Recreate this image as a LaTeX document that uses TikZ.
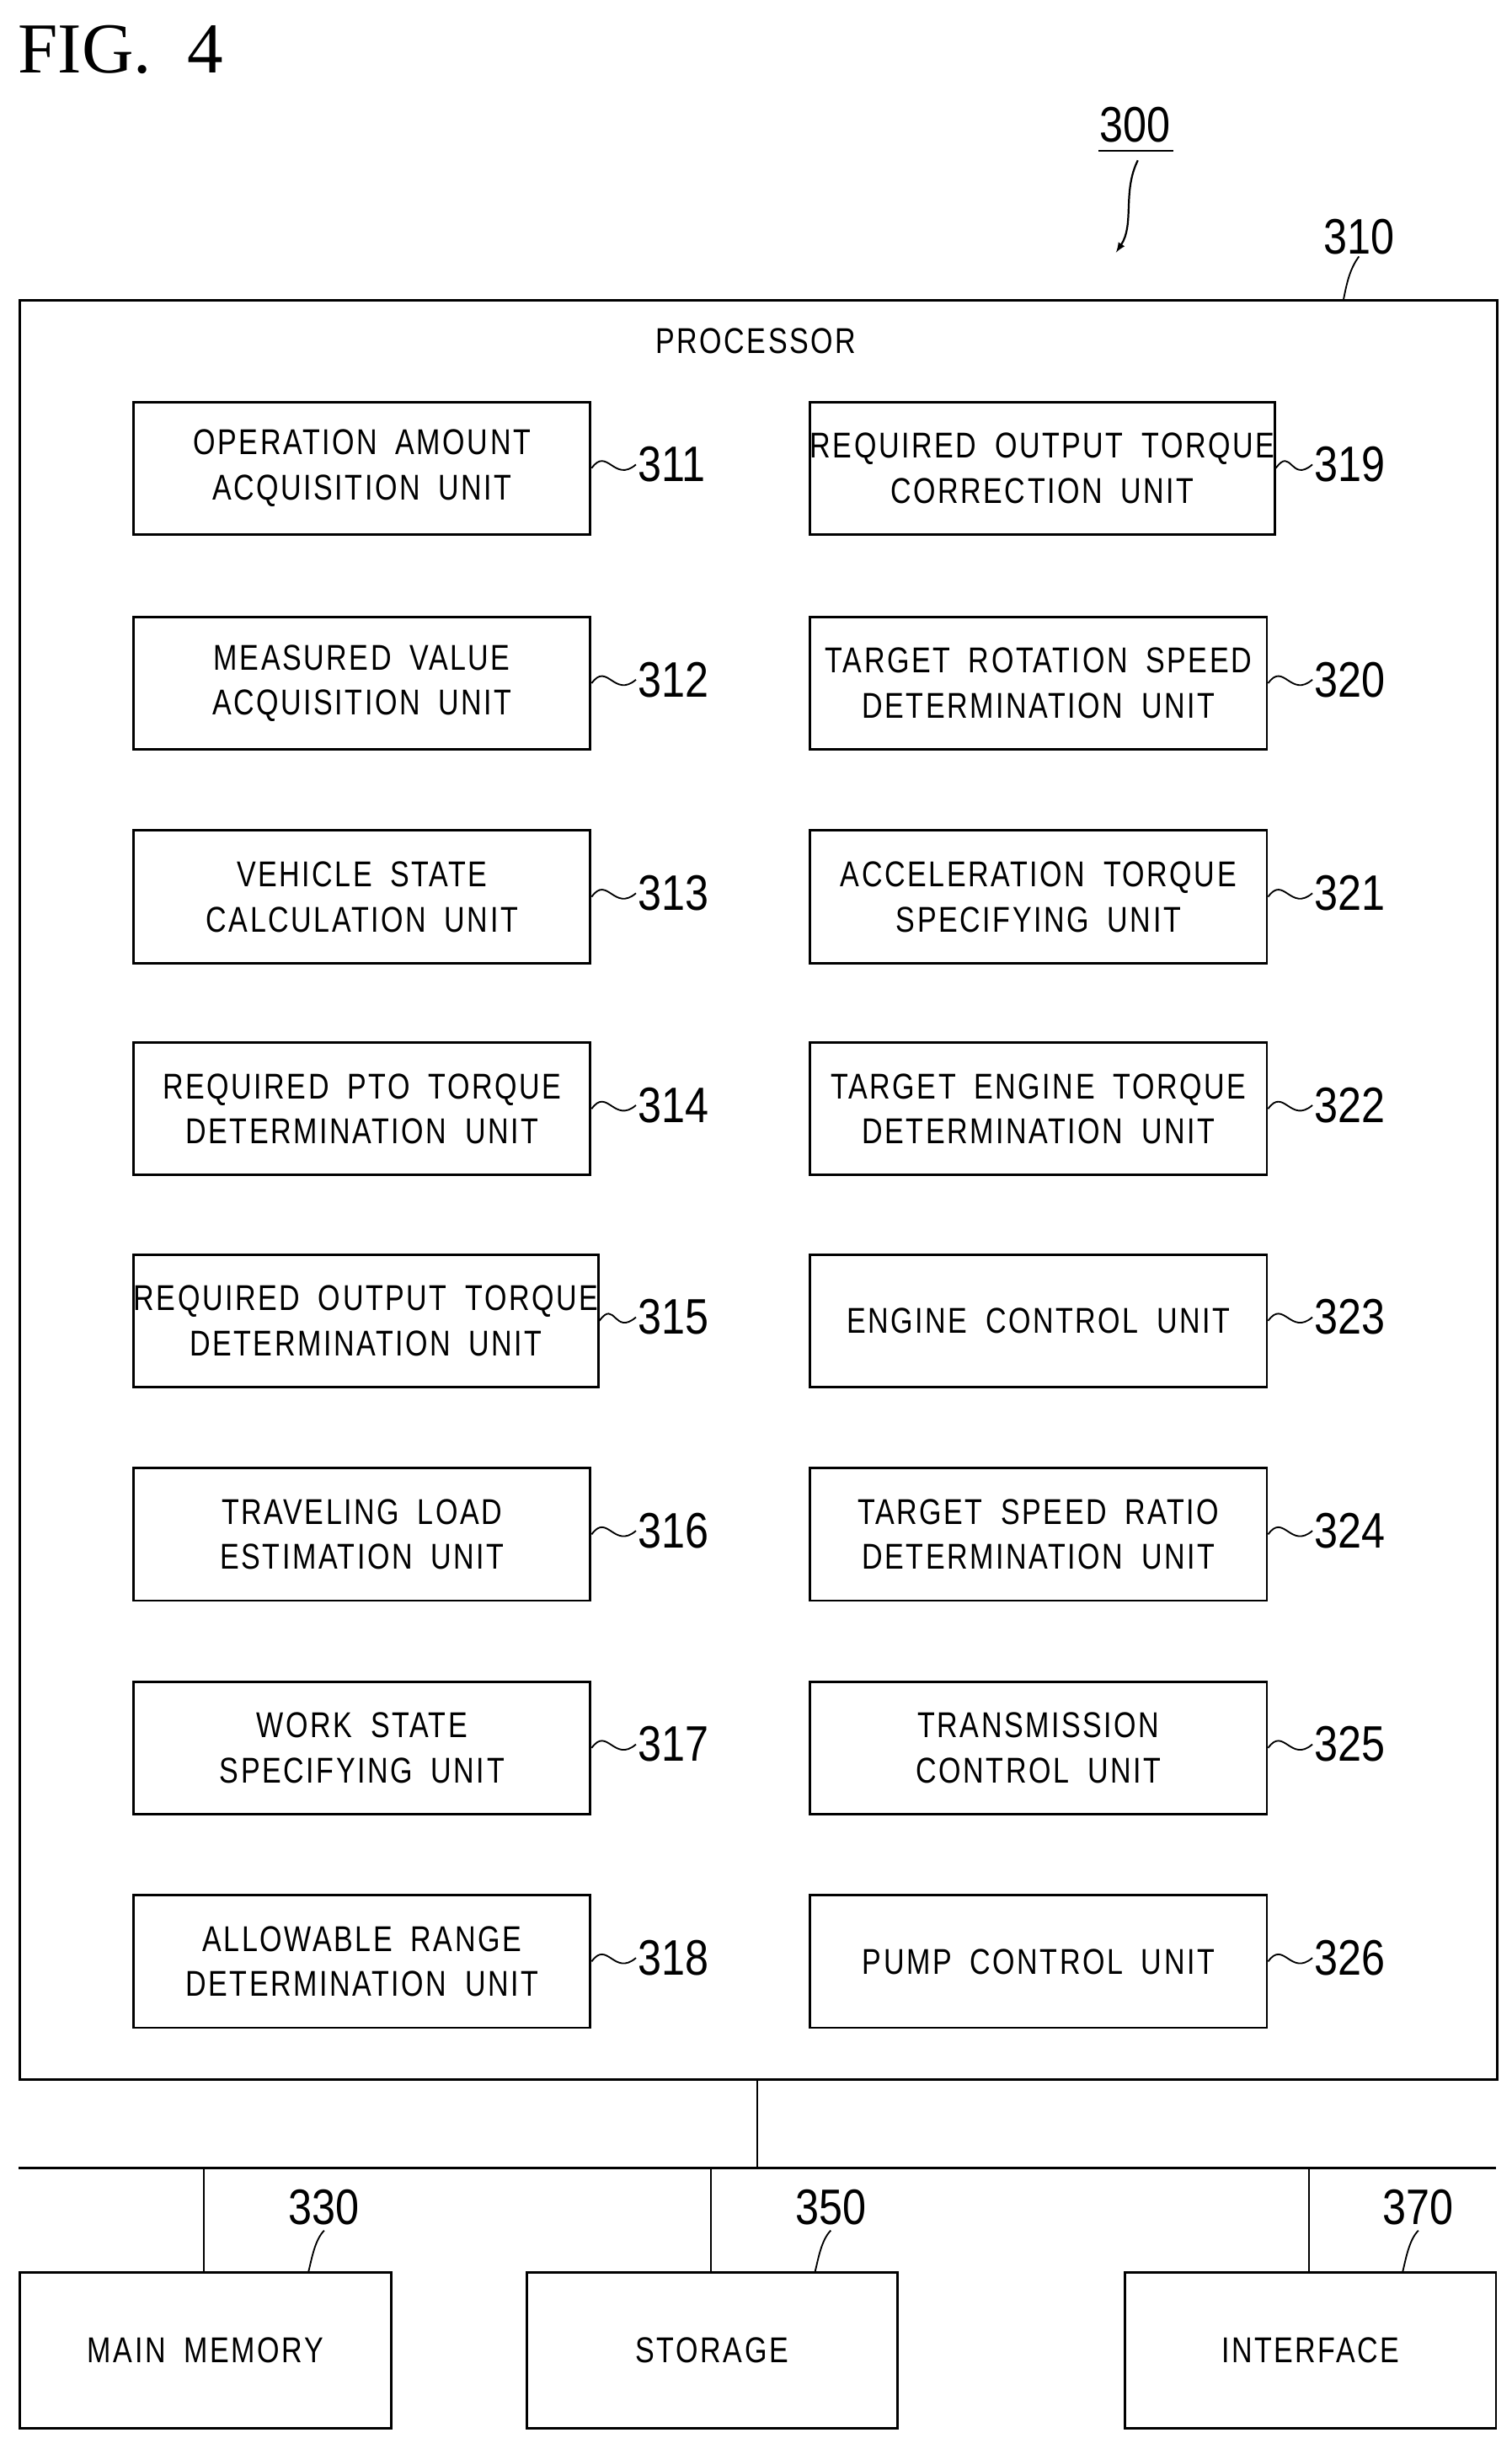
\documentclass[tikz,border=0pt]{standalone}
\usepackage{fontspec}
\setmainfont{Liberation Sans}[FakeStretch=0.8,LetterSpace=6,WordSpace=1.8]
\newfontfamily\numfont{Liberation Sans}[FakeStretch=0.85]
\newfontfamily\serifx{Liberation Serif}
\begin{document}
\begin{tikzpicture}[x=1pt,y=-1pt,
  unitbox/.style={draw,line width=1.6pt,minimum width=293pt,minimum height=85pt,align=center,inner sep=0pt,font=\fontsize{23}{29}\selectfont},
  bottombox/.style={draw,line width=1.6pt,minimum width=238pt,minimum height=100pt,font=\fontsize{23}{29}\selectfont},
  reflab/.style={font=\numfont\fontsize{32}{34}\selectfont,anchor=west,inner sep=1pt},
  lead/.style={line width=1pt}]
\useasboundingbox (0,0) rectangle (970,1564);
\node[font=\serifx\fontsize{46}{48}\selectfont,anchor=west] (fig) at (8,32) {FIG.\ \ 4};
\node[draw,line width=1.6pt,minimum width=948pt,minimum height=1141pt,anchor=north west,inner sep=0pt] (proc) at (12,192) {};
\node[font=\fontsize{23}{26}\selectfont] (ptxt) at (485,219) {PROCESSOR};
\foreach \i/\y/\t/\r/\u in {
 1/257/{OPERATION AMOUNT\\ACQUISITION UNIT}/{REQUIRED OUTPUT TORQUE\\CORRECTION UNIT}/19,
 2/395/{MEASURED VALUE\\ACQUISITION UNIT}/{TARGET ROTATION SPEED\\DETERMINATION UNIT}/20,
 3/532/{VEHICLE STATE\\CALCULATION UNIT}/{ACCELERATION TORQUE\\SPECIFYING UNIT}/21,
 4/668/{REQUIRED PTO TORQUE\\DETERMINATION UNIT}/{TARGET ENGINE TORQUE\\DETERMINATION UNIT}/22,
 5/804/{REQUIRED OUTPUT TORQUE\\DETERMINATION UNIT}/{ENGINE CONTROL UNIT}/23,
 6/941/{TRAVELING LOAD\\ESTIMATION UNIT}/{TARGET SPEED RATIO\\DETERMINATION UNIT}/24,
 7/1078/{WORK STATE\\SPECIFYING UNIT}/{TRANSMISSION\\CONTROL UNIT}/25,
 8/1215/{ALLOWABLE RANGE\\DETERMINATION UNIT}/{PUMP CONTROL UNIT}/26}{
  \node[unitbox,anchor=north west] (L\i) at (85,\y) {\t};
  \node[unitbox,anchor=north west] (R\i) at (519,\y) {\r};
  \node[reflab] (LL\i) at (408,\y+41) {31\i};
  \node[reflab] (RL\i) at (842,\y+41) {3\u};
  \draw[lead] (L\i.east) .. controls +(10,-14) and +(-14,12) .. (LL\i.west);
  \draw[lead] (R\i.east) .. controls +(10,-14) and +(-14,12) .. (RL\i.west);
}
\node[reflab] (p310) at (848,152) {310};
\coordinate (c310) at (862,192);
\draw[lead] (c310) .. controls +(2,-10) and +(-6,8) .. (p310.south);
\node[font=\numfont\fontsize{32}{34}\selectfont] (p300) at (728,80) {300};
\draw[line width=1.2pt] (p300.south west) ++(3,2) -- ++(48,0);
\coordinate (a300) at (716,162);
\draw[line width=1.2pt,-latex] (p300.south) ++(2,8) .. controls +(-10,20) and +(12,-18) .. (a300);
\coordinate (busL) at (12,1391); \coordinate (busR) at (960,1391);
\coordinate (busM) at (486,1391);
\draw[line width=1.6pt] (busL) -- (busR);
\draw[line width=1pt] (proc.south -| busM) -- (busM);
\node[bottombox,anchor=north west] (mm) at (12,1457) {MAIN MEMORY};
\node[bottombox,anchor=north west] (st) at (337,1457) {STORAGE};
\node[bottombox,anchor=north west] (it) at (721,1457) {INTERFACE};
\foreach \b/\x/\n/\lx in {mm/131/330/208, st/456/350/533, it/840/370/910}{
  \coordinate (t\b) at (\x,1391);
  \draw[line width=1pt] (t\b) -- (\b.north -| t\b);
  \node[font=\numfont\fontsize{32}{34}\selectfont] (n\b) at (\lx,1416) {\n};
  \draw[lead] (\b.north -| \lx-10,0) .. controls +(2,-8) and +(-6,6) .. (n\b.south);
}
\end{tikzpicture}
\end{document}
